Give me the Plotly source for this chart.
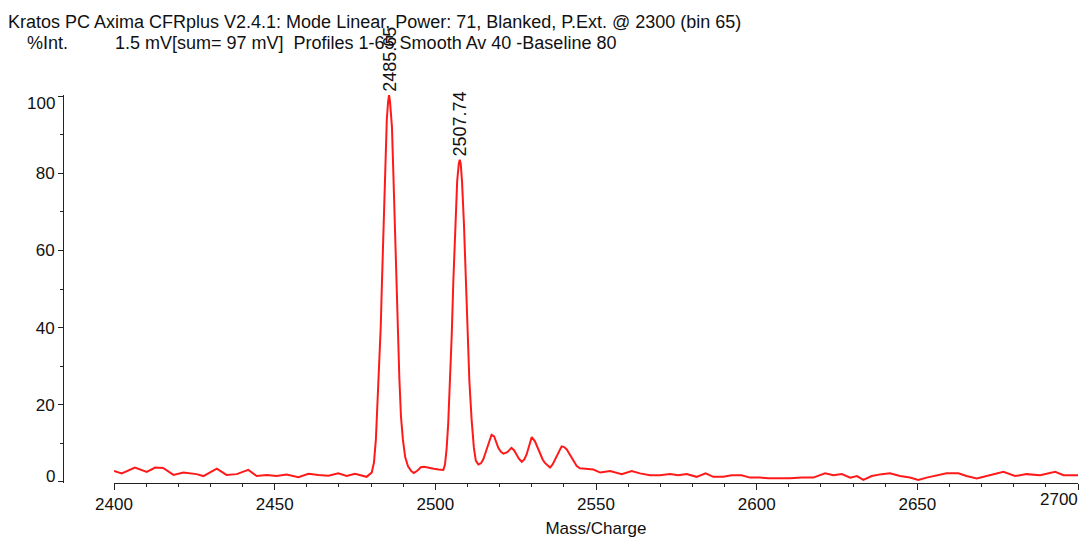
import plotly.graph_objects as go

# ---------------- data ----------------
mz = [
    2400.0, 2402.4, 2406.5, 2410.2, 2412.8, 2415.3, 2418.5, 2421.6, 2425.7, 2427.8,
    2432.0, 2435.0, 2438.2, 2441.8, 2444.4, 2447.5, 2450.6, 2453.7, 2457.4, 2460.5,
    2463.6, 2466.7, 2469.8, 2472.4, 2475.0, 2478.6, 2480.2, 2480.9, 2481.5, 2482.0,
    2482.6, 2483.0, 2483.4, 2483.8, 2484.2, 2484.6, 2484.9, 2485.3, 2485.6, 2485.9,
    2486.2, 2486.5, 2486.9, 2487.3, 2487.8, 2488.3, 2488.8, 2489.3, 2489.9, 2490.6,
    2491.5, 2492.5, 2493.3, 2494.3, 2495.5, 2496.5, 2497.8, 2499.5, 2501.0, 2502.5,
    2503.0, 2503.5, 2504.0, 2504.6, 2505.1, 2505.6, 2506.3, 2506.8, 2507.3, 2507.6,
    2507.9, 2508.3, 2508.9, 2509.5, 2509.9, 2510.6, 2511.3, 2512.0, 2512.6, 2513.4,
    2514.2, 2514.9, 2515.8, 2516.5, 2517.5, 2518.3, 2519.0, 2519.6, 2520.4, 2521.2,
    2522.4, 2523.7, 2524.5, 2525.3, 2526.0, 2526.9, 2527.7, 2528.4, 2529.3, 2530.0,
    2531.0, 2531.8, 2532.6, 2533.4, 2534.1, 2535.0, 2535.7, 2536.5, 2537.3, 2538.3,
    2539.3, 2540.1, 2540.9, 2541.7, 2542.4, 2543.2, 2544.0, 2545.0, 2546.1, 2549.2,
    2551.3, 2554.4, 2558.0, 2561.1, 2563.7, 2566.8, 2569.9, 2573.0, 2575.6, 2578.2,
    2581.3, 2584.1, 2586.5, 2589.6, 2592.2, 2595.3, 2597.9, 2601.1, 2603.6, 2606.7,
    2610.4, 2614.0, 2617.6, 2621.3, 2623.9, 2626.5, 2629.1, 2631.2, 2633.2, 2635.8,
    2638.9, 2641.5, 2644.6, 2647.7, 2650.3, 2652.9, 2656.0, 2659.1, 2662.8, 2665.3,
    2668.5, 2672.1, 2676.8, 2680.4, 2684.0, 2688.2, 2692.9, 2695.5, 2700.0,
]
intensity = [
    2.8, 2.2, 3.7, 2.6, 3.7, 3.6, 1.8, 2.4, 2.0, 1.5,
    3.4, 1.8, 2.0, 3.1, 1.5, 1.8, 1.5, 1.9, 1.2, 2.1,
    1.8, 1.6, 2.2, 1.5, 2.1, 1.3, 2.4, 5.0, 11.0, 20.0,
    30.0, 40.0, 52.0, 65.0, 78.0, 88.0, 94.0, 98.5, 100.3, 98.5,
    96.0, 92.0, 81.0, 69.0, 55.0, 40.0, 27.0, 17.0, 11.0, 6.5,
    4.0, 2.8, 2.3, 2.8, 3.8, 3.9, 3.6, 3.4, 3.2, 3.1,
    4.5, 8.5, 15.0, 26.0, 38.0, 52.0, 68.0, 78.0, 82.5, 83.5,
    82.5, 78.0, 67.0, 53.0, 39.0, 26.0, 16.0, 8.8, 5.5, 4.5,
    4.8, 5.8, 8.0, 10.0, 12.2, 11.8, 10.0, 8.8, 7.8, 7.3,
    7.7, 8.8, 8.2, 7.1, 6.0, 5.2, 5.8, 7.1, 9.5, 11.6,
    10.5, 8.8, 7.1, 5.8, 4.9, 4.1, 3.7, 4.5, 5.8, 7.8,
    9.2, 9.0, 8.4, 7.3, 6.2, 5.0, 4.1, 3.5, 3.4, 3.2,
    2.4, 2.8, 2.0, 2.8, 2.2, 1.7, 1.7, 2.0, 1.7, 2.0,
    1.3, 2.2, 1.3, 1.3, 1.7, 1.7, 1.1, 1.1, 0.9, 0.9,
    0.9, 1.1, 1.1, 2.2, 1.7, 2.0, 1.1, 1.5, 0.5, 1.5,
    2.0, 2.2, 1.5, 1.1, 0.5, 1.1, 1.7, 2.2, 2.2, 1.5,
    0.9, 1.7, 2.6, 1.5, 2.0, 1.7, 2.6, 1.7, 1.7,
]

peak_mz = [2485.65, 2507.74]
peak_int = [100.3, 83.5]
peak_labels = ["2485.65", "2507.74"]

x_tickvals = [2400, 2450, 2500, 2550, 2600, 2650, 2700]
x_ticktext = ["2400", "2450", "2500", "2550", "2600", "2650", ""]
x_last_label = "2700"
y_tickvals = [0, 20, 40, 60, 80, 100]
y_ticktext = ["", "20", "40", "60", "80", ""]
y_edge_labels = {0: "0", 100: "100"}

header_line1 = "Kratos PC Axima CFRplus V2.4.1: Mode Linear, Power: 71, Blanked, P.Ext. @ 2300 (bin 65)"
header_ylabel = "%Int."
header_line2 = "1.5 mV[sum= 97 mV]\u00a0\u00a0Profiles 1-65 Smooth Av 40 -Baseline 80"
x_title = "Mass/Charge"

# ---------------- figure ----------------
FONT = "Liberation Sans, Arial, sans-serif"
TXT = "#111111"
W, H = 1083, 539
ML, MR, MT, MB = 63, 5, 95, 52
plot_w = W - ML - MR
x_dom0 = (114 - ML) / plot_w

fig = go.Figure()
fig.add_trace(go.Scatter(
    x=mz, y=intensity, mode="lines",
    line=dict(color="#ff1a1a", width=2),
    hoverinfo="skip", showlegend=False,
))

annotations = []
for pm, pi, pl in zip(peak_mz, peak_int, peak_labels):
    annotations.append(dict(
        x=pm, y=pi, xref="x", yref="y", text=pl, textangle=-90,
        showarrow=False, xanchor="center", yanchor="bottom", yshift=1,
        font=dict(family=FONT, size=18, color=TXT),
    ))

annotations.append(dict(
    x=x_tickvals[-1], y=0, xref="x", yref="paper", text=x_last_label,
    showarrow=False, xanchor="right", yanchor="middle", yshift=-16, xshift=2,
    font=dict(family=FONT, size=17, color=TXT),
))
for val, lab in y_edge_labels.items():
    annotations.append(dict(
        x=0, y=val, xref="paper", yref="y", text=lab, showarrow=False,
        xanchor="right", yanchor="middle", xshift=-6,
        yshift=(5 if val == 0 else -7),
        font=dict(family=FONT, size=17, color=TXT),
    ))

annotations += [
    dict(x=0, y=1, xref="paper", yref="paper", text=header_line1, showarrow=False,
         xanchor="left", yanchor="middle", xshift=8 - ML - 2, yshift=MT - 22,
         font=dict(family=FONT, size=18, color=TXT)),
    dict(x=0, y=1, xref="paper", yref="paper", text=header_ylabel, showarrow=False,
         xanchor="left", yanchor="middle", xshift=27 - ML - 2, yshift=MT - 43,
         font=dict(family=FONT, size=18, color=TXT)),
    dict(x=0, y=1, xref="paper", yref="paper", text=header_line2, showarrow=False,
         xanchor="left", yanchor="middle", xshift=115 - ML - 2, yshift=MT - 43,
         font=dict(family=FONT, size=18, color=TXT)),
]

fig.update_layout(
    width=W, height=H,
    margin=dict(l=ML, r=MR, t=MT, b=MB, pad=0),
    paper_bgcolor="white", plot_bgcolor="white",
    font=dict(family=FONT, size=17, color=TXT),
    annotations=annotations,
    xaxis=dict(
        domain=[x_dom0, 1], range=[2400, 2700], anchor="y",
        showline=True, linecolor="#222222", linewidth=1,
        showgrid=False, zeroline=False,
        tickmode="array", tickvals=x_tickvals, ticktext=x_ticktext,
        ticks="outside", ticklen=6, tickcolor="#222222", tickwidth=1,
        minor=dict(dtick=10, tick0=2400, ticks="outside", ticklen=3,
                   tickcolor="#222222", tickwidth=1, showgrid=False),
        tickfont=dict(family=FONT, size=17, color=TXT),
        title=dict(text=x_title, standoff=8,
                   font=dict(family=FONT, size=17, color=TXT)),
    ),
    yaxis=dict(
        domain=[0, 1], range=[-0.3, 100.3], anchor="free", position=0,
        showline=True, linecolor="#222222", linewidth=1,
        showgrid=False, zeroline=False,
        tickmode="array", tickvals=y_tickvals, ticktext=y_ticktext,
        ticks="outside", ticklen=5, tickcolor="#222222", tickwidth=1,
        minor=dict(dtick=10, tick0=0, ticks="outside", ticklen=3,
                   tickcolor="#222222", tickwidth=1, showgrid=False),
        tickfont=dict(family=FONT, size=17, color=TXT),
    ),
)

fig.write_html(
    "out.html",
    config={"displayModeBar": False},
    post_script="document.body.style.margin='0';document.body.style.overflow='hidden';",
)
